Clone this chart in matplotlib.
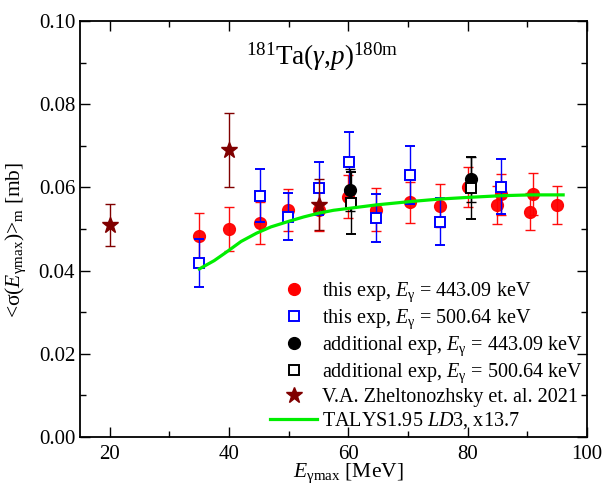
import matplotlib
matplotlib.use("Agg")
import matplotlib.pyplot as plt
from matplotlib.lines import Line2D
from matplotlib.ticker import MultipleLocator

plt.rcParams['font.family'] = ['Liberation Serif', 'DejaVu Serif']
plt.rcParams['mathtext.fontset'] = 'custom'
plt.rcParams['mathtext.rm'] = 'Liberation Serif'
plt.rcParams['mathtext.it'] = 'Liberation Serif:italic'
plt.rcParams['mathtext.bf'] = 'Liberation Serif:bold'

# this exp, E_gamma = 443.09 keV
red_x = [35.0, 40.0, 45.1, 49.9, 55.1, 60.0, 64.7, 70.4, 75.3, 80.1, 84.9, 85.5, 90.5, 90.9, 95.0]
red_y = [0.0484, 0.0500, 0.0514, 0.0545, 0.0545, 0.0578, 0.0546, 0.0564, 0.0556, 0.0602, 0.0558, 0.0583, 0.0542, 0.0584, 0.0558]
red_e = [0.0055, 0.0053, 0.0051, 0.0050, 0.0050, 0.0052, 0.0052, 0.0050, 0.0052, 0.0048, 0.0045, 0.0050, 0.0044, 0.0050, 0.0046]

# this exp, E_gamma = 500.64 keV
blue_x = [35.0, 45.1, 49.9, 55.1, 60.1, 64.7, 70.4, 75.3, 85.6]
blue_y = [0.0418, 0.0580, 0.0530, 0.0598, 0.0662, 0.0527, 0.0630, 0.0518, 0.0602]
blue_e = [0.0057, 0.0064, 0.0057, 0.0064, 0.0072, 0.0058, 0.0070, 0.0056, 0.0066]

# additional exp, 443.09 keV
blk_x = [60.3, 80.5]
blk_y = [0.0594, 0.0619]
blk_e = [0.0050, 0.0055]

# additional exp, 500.64 keV
blks_x = [60.4, 80.5]
blks_y = [0.0562, 0.0599]
blks_e = [0.0075, 0.0075]

# V.A. Zheltonozhsky et. al. 2021
star_x = [20.0, 40.0, 55.0]
star_y = [0.0510, 0.0690, 0.0558]
star_e = [0.0050, 0.0090, 0.0061]

# TALYS1.95 LD3, x13.7
talys_x = [35.0, 37.5, 39.6, 42.0, 44.6, 47.0, 49.9, 52.5, 55.0, 57.5, 60.3, 64.7, 70.4, 75.3, 80.1, 85.5, 90.5, 96.0]
talys_y = [0.0404, 0.0424, 0.0445, 0.0470, 0.0490, 0.0505, 0.0518, 0.0529, 0.0538, 0.0545, 0.0550, 0.0558, 0.0566, 0.0572, 0.0576, 0.0580, 0.0582, 0.0582]

fig = plt.figure(figsize=(6.07, 4.83), dpi=100)
ax = fig.add_axes([80/607, 1-437/483, (587-80)/607, (437-21)/483])

red = '#ff0000'
blue = '#0000ff'
maroon = '#800000'
green = '#00ee00'

ax.errorbar(red_x, red_y, yerr=red_e, fmt='o', color=red, ms=8.5, mec=red,
            capsize=3.5, elinewidth=1.0, capthick=1.0, zorder=3, alpha=0.95)
ax.errorbar(blue_x, blue_y, yerr=blue_e, fmt='s', color=blue, ms=6.5, mfc='white',
            mec=blue, mew=1.4, capsize=3.5, elinewidth=1.0, capthick=1.0, zorder=4)
ax.errorbar(blk_x, blk_y, yerr=blk_e, fmt='o', color='black', ms=8.5,
            capsize=3.5, elinewidth=1.0, capthick=1.0, zorder=5)
ax.errorbar(blks_x, blks_y, yerr=blks_e, fmt='s', color='black', ms=6.5, mfc='white',
            mew=1.4, capsize=3.5, elinewidth=1.0, capthick=1.0, zorder=5)
ax.errorbar(star_x, star_y, yerr=star_e, fmt='*', color=maroon, ms=12,
            capsize=3.5, elinewidth=1.0, capthick=1.0, zorder=6)
ax.plot(talys_x, talys_y, '-', color=green, lw=2.3, zorder=7)

ax.set_xlim(15, 100)
ax.set_ylim(0.0, 0.10)
ax.xaxis.set_major_locator(MultipleLocator(20))
ax.xaxis.set_minor_locator(MultipleLocator(10))
ax.yaxis.set_major_locator(MultipleLocator(0.02))
ax.yaxis.set_minor_locator(MultipleLocator(0.01))
ax.yaxis.set_major_formatter(matplotlib.ticker.FormatStrFormatter('%.2f'))
ax.tick_params(which='both', direction='in', top=True, right=True, labelsize=15, width=1.0)
ax.tick_params(which='major', length=7)
ax.tick_params(which='minor', length=4)
ax.tick_params(axis='x', pad=6)
for s in ax.spines.values():
    s.set_linewidth(1.3)

ax.set_xlabel(r'$E_{\mathrm{\gamma max}}$ [MeV]', fontsize=15.5, labelpad=0)
ax.set_ylabel(r'<σ($E_{\mathrm{\gamma max}}$)>$_{\mathrm{m}}$ [mb]', fontsize=15.5, labelpad=6)
ax.xaxis.set_label_coords(0.53, -0.058)
ax.yaxis.set_label_coords(-0.102, 0.474)

ax.text(55.6, 0.0894, r'$^{181}$Ta($\mathit{\gamma}$,$p$)$^{180\mathrm{m}}$', fontsize=19.5,
        ha='center', va='baseline')

handles = [
    Line2D([], [], ls='none', marker='o', color=red, ms=8.5),
    Line2D([], [], ls='none', marker='s', color=blue, mfc='white', ms=6.5, mew=1.4),
    Line2D([], [], ls='none', marker='o', color='black', ms=8.5),
    Line2D([], [], ls='none', marker='s', color='black', mfc='white', ms=6.5, mew=1.4),
    Line2D([], [], ls='none', marker='*', color=maroon, ms=12),
    Line2D([], [], ls='-', color=green, lw=2.3),
]
labels = [
    r'this exp, $E_{\mathrm{\gamma}}$ = 443.09 keV',
    r'this exp, $E_{\mathrm{\gamma}}$ = 500.64 keV',
    r'additional exp, $E_{\mathrm{\gamma}}$ = 443.09 keV',
    r'additional exp, $E_{\mathrm{\gamma}}$ = 500.64 keV',
    'V.A. Zheltonozhsky et. al. 2021',
    r'TALYS1.95 $LD$3, x13.7',
]
leg = ax.legend(handles, labels, loc='lower right', bbox_to_anchor=(1.008, -0.006),
                frameon=False, fontsize=14.5, handlelength=2.35, handletextpad=0.25,
                labelspacing=0.17, borderaxespad=0.2, borderpad=0.2)

fig.savefig('out.png', dpi=100)
